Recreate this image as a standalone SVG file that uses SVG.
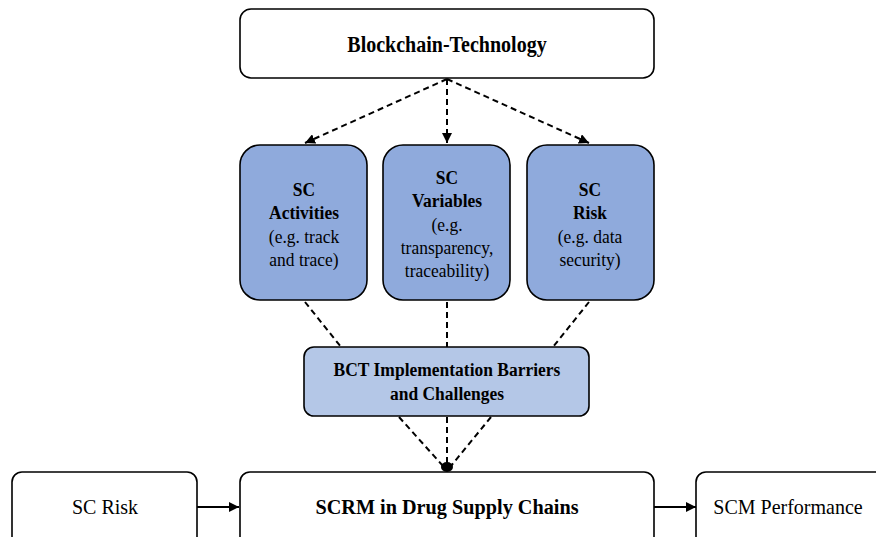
<svg xmlns="http://www.w3.org/2000/svg" width="876" height="537" viewBox="0 0 876 537">
<defs>
<marker id="ah" viewBox="0 0 10 10" refX="10" refY="5" markerWidth="5" markerHeight="5" orient="auto" markerUnits="strokeWidth">
<path d="M0,0 L10,5 L0,10 z" fill="#000"/>
</marker>
<style>
.box{stroke:#000;stroke-width:1.6}
.w{fill:#fff}
.b1{fill:#8FAADC}
.b2{fill:#B4C7E7}
.dash{stroke:#000;stroke-width:2;stroke-dasharray:6 4;fill:none}
.solid{stroke:#000;stroke-width:2;fill:none}
text{font-family:"Liberation Serif","Times New Roman",serif;fill:#000;text-anchor:middle}
.bold{font-weight:bold}
</style>
</defs>
<rect width="876" height="537" fill="#fff"/>
<g id="connectors">
<path class="dash" d="M447,79 L305,143" marker-end="url(#ah)"/>
<path class="dash" d="M447,79 L447,143" marker-end="url(#ah)"/>
<path class="dash" d="M447,79 L589,143" marker-end="url(#ah)"/>
<path class="dash" d="M305,302 L341,347"/>
<path class="dash" d="M447,302 L447,347"/>
<path class="dash" d="M589,302 L553,347"/>
<path class="dash" d="M399,417 L443,466"/>
<path class="dash" d="M447,417 L447,466"/>
<path class="dash" d="M491,417 L451,466"/>
<ellipse cx="447" cy="467" rx="6" ry="5" fill="#000"/>
<path class="solid" d="M197,507 L239,507" marker-end="url(#ah)"/>
<path class="solid" d="M654,507 L696,507" marker-end="url(#ah)"/>
</g>
<g id="blockchain">
<rect class="box w" x="240" y="9" width="414" height="69" rx="11"/>
<g transform="translate(447 0) scale(0.87 1)"><text class="bold" x="0" y="52" font-size="23">Blockchain-Technology</text></g>
</g>
<g id="sc-activities">
<rect class="box b1" x="240" y="145" width="127" height="155" rx="20"/>
<g transform="translate(304 0) scale(0.92 1)" font-size="19">
<text class="bold" x="0" y="196">SC</text>
<text class="bold" x="0" y="219">Activities</text>
<text x="0" y="243">(e.g. track</text>
<text x="0" y="266">and trace)</text>
</g>
</g>
<g id="sc-variables">
<rect class="box b1" x="383" y="145" width="127" height="155" rx="20"/>
<g transform="translate(447 0) scale(0.92 1)" font-size="19">
<text class="bold" x="0" y="184">SC</text>
<text class="bold" x="0" y="207">Variables</text>
<text x="0" y="231">(e.g.</text>
<text x="0" y="254">transparency,</text>
<text x="0" y="277">traceability)</text>
</g>
</g>
<g id="sc-risk-top">
<rect class="box b1" x="527" y="145" width="127" height="155" rx="20"/>
<g transform="translate(590 0) scale(0.92 1)" font-size="19">
<text class="bold" x="0" y="196">SC</text>
<text class="bold" x="0" y="219">Risk</text>
<text x="0" y="243">(e.g. data</text>
<text x="0" y="266">security)</text>
</g>
</g>
<g id="bct">
<rect class="box b2" x="304" y="347" width="285" height="69" rx="10"/>
<g transform="translate(447 0) scale(0.92 1)" font-size="19">
<text class="bold" x="0" y="376">BCT Implementation Barriers</text>
<text class="bold" x="0" y="400">and Challenges</text>
</g>
</g>
<g id="sc-risk">
<rect class="box w" x="12" y="472" width="185" height="80" rx="10"/>
<g transform="translate(105 0) scale(0.91 1)"><text x="0" y="514" font-size="22">SC Risk</text></g>
</g>
<g id="scrm">
<rect class="box w" x="240" y="472" width="414" height="80" rx="10"/>
<g transform="translate(447 0) scale(0.92 1)"><text class="bold" x="0" y="514" font-size="22">SCRM in Drug Supply Chains</text></g>
</g>
<g id="scm-performance">
<rect class="box w" x="696" y="472" width="190" height="80" rx="10"/>
<g transform="translate(788 0) scale(0.91 1)"><text x="0" y="514" font-size="22">SCM Performance</text></g>
</g>
</svg>
